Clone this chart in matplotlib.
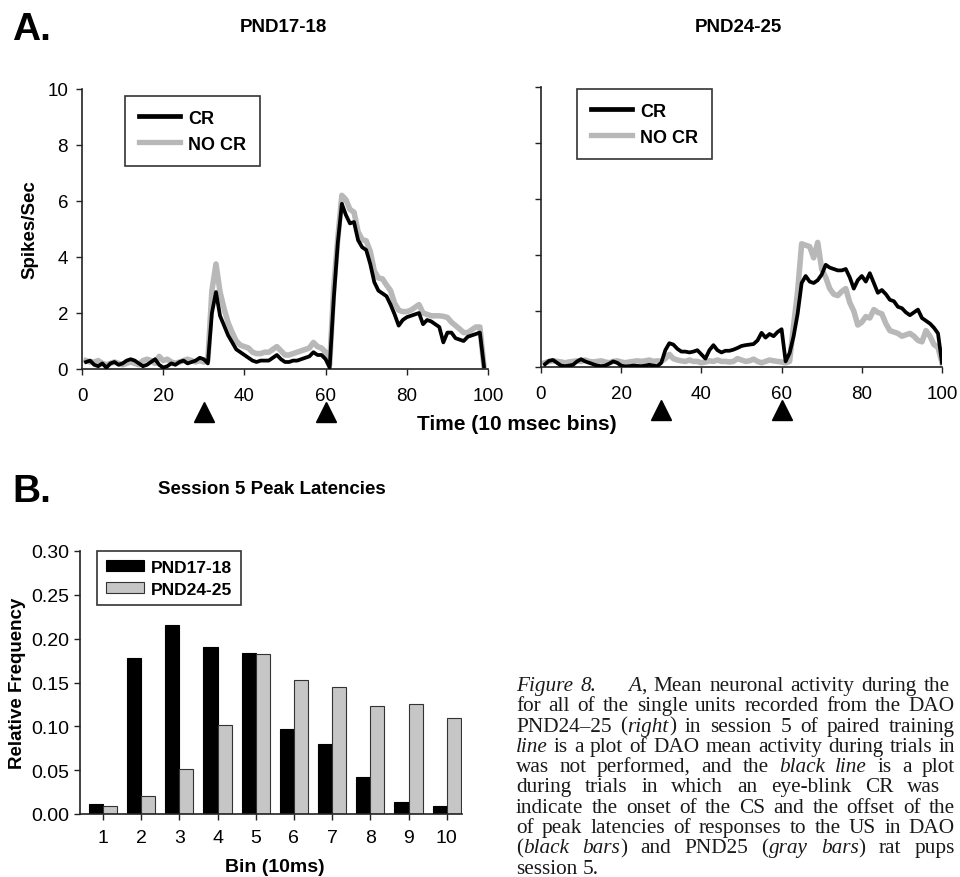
import matplotlib
matplotlib.use('Agg')
import matplotlib.pyplot as plt
import numpy as np
from matplotlib.transforms import blended_transform_factory
from matplotlib.lines import Line2D

plt.rcParams['font.family'] = ['Liberation Sans', 'DejaVu Sans']

# ---------------- data ----------------
time_left = list(range(1, 100))
cr_left = [0.25, 0.30, 0.15, 0.10, 0.20, 0.05, 0.20, 0.25, 0.15, 0.20,
           0.30, 0.35, 0.30, 0.20, 0.10, 0.15, 0.25, 0.35, 0.15, 0.05,
           0.10, 0.20, 0.15, 0.25, 0.30, 0.20, 0.25, 0.30, 0.40, 0.35,
           0.20, 2.00, 2.75, 1.90, 1.55, 1.20, 0.95, 0.70, 0.60, 0.50,
           0.40, 0.30, 0.25, 0.30, 0.30, 0.30, 0.40, 0.50, 0.35, 0.25,
           0.25, 0.30, 0.30, 0.35, 0.40, 0.45, 0.60, 0.50, 0.50, 0.35,
           0.05, 2.50, 4.50, 5.90, 5.50, 5.20, 5.25, 4.60, 4.35, 4.25,
           3.75, 3.10, 2.80, 2.70, 2.60, 2.30, 1.95, 1.55, 1.75, 1.85,
           1.90, 1.95, 2.00, 1.60, 1.75, 1.70, 1.60, 1.50, 0.95, 1.30,
           1.30, 1.10, 1.05, 1.00, 1.15, 1.20, 1.25, 1.30, 0.10]
nocr_left = [0.30, 0.25, 0.25, 0.30, 0.20, 0.15, 0.20, 0.25, 0.20, 0.15,
             0.20, 0.25, 0.20, 0.15, 0.30, 0.35, 0.30, 0.20, 0.45, 0.30,
             0.35, 0.25, 0.20, 0.25, 0.30, 0.35, 0.30, 0.25, 0.30, 0.25,
             0.30, 2.80, 3.75, 2.75, 2.15, 1.65, 1.30, 1.00, 0.85, 0.80,
             0.75, 0.60, 0.55, 0.55, 0.60, 0.60, 0.70, 0.80, 0.65, 0.50,
             0.50, 0.55, 0.60, 0.65, 0.70, 0.75, 0.95, 0.80, 0.75, 0.60,
             0.15, 2.90, 4.65, 6.20, 6.05, 5.70, 5.60, 4.90, 4.62, 4.58,
             4.20, 3.50, 3.25, 3.22, 3.00, 2.80, 2.35, 2.10, 2.05, 2.05,
             2.10, 2.20, 2.30, 2.00, 1.95, 1.90, 1.90, 1.90, 1.88, 1.84,
             1.67, 1.55, 1.43, 1.30, 1.30, 1.40, 1.50, 1.50, 0.10]

time_right = list(range(1, 101))
cr_right = [0.10, 0.22, 0.25, 0.15, 0.05, 0.03, 0.05, 0.08, 0.20, 0.28,
            0.20, 0.15, 0.10, 0.05, 0.03, 0.05, 0.12, 0.20, 0.15, 0.05,
            0.02, 0.03, 0.05, 0.04, 0.03, 0.05, 0.08, 0.05, 0.03, 0.15,
            0.60, 0.85, 0.80, 0.65, 0.55, 0.55, 0.52, 0.55, 0.60, 0.45,
            0.30, 0.60, 0.78, 0.60, 0.52, 0.58, 0.58, 0.62, 0.68, 0.75,
            0.78, 0.80, 0.82, 0.95, 1.22, 1.05, 1.18, 1.10, 1.25, 1.35,
            0.20, 0.50, 1.10, 1.90, 3.00, 3.25, 3.05, 3.00, 3.10, 3.30,
            3.65, 3.55, 3.50, 3.45, 3.45, 3.50, 3.20, 2.80, 3.10, 3.25,
            3.05, 3.35, 3.00, 2.65, 2.75, 2.60, 2.40, 2.35, 2.15, 2.10,
            1.95, 1.85, 1.95, 2.05, 1.75, 1.65, 1.55, 1.40, 1.20, 0.15]
nocr_right = [0.15, 0.20, 0.22, 0.20, 0.18, 0.15, 0.18, 0.20, 0.22, 0.20,
              0.25, 0.20, 0.18, 0.20, 0.22, 0.18, 0.15, 0.20, 0.22, 0.18,
              0.15, 0.18, 0.20, 0.22, 0.20, 0.22, 0.25, 0.20, 0.22, 0.20,
              0.30, 0.45, 0.30, 0.25, 0.22, 0.20, 0.25, 0.20, 0.20, 0.15,
              0.18, 0.22, 0.20, 0.25, 0.20, 0.20, 0.18, 0.20, 0.30, 0.25,
              0.20, 0.22, 0.28, 0.20, 0.15, 0.20, 0.25, 0.22, 0.20, 0.18,
              0.15, 0.20, 1.50, 2.70, 4.40, 4.35, 4.30, 3.90, 4.45, 3.50,
              3.20, 2.80, 2.60, 2.55, 2.70, 2.80, 2.30, 2.00, 1.50, 1.60,
              1.80, 1.75, 2.05, 1.95, 1.90, 1.55, 1.30, 1.25, 1.20, 1.10,
              1.15, 1.20, 1.10, 0.95, 0.90, 1.30, 1.10, 0.80, 0.70, 0.15]

event_bins = [30, 60]

bins = list(range(1, 11))
freq_pnd17 = [0.011, 0.178, 0.216, 0.190, 0.184, 0.097, 0.080, 0.042, 0.014, 0.009]
freq_pnd24 = [0.009, 0.020, 0.051, 0.102, 0.182, 0.153, 0.145, 0.123, 0.126, 0.110]

caption_lines = [
    "_Figure 8._\u2003\u2002_A_, Mean neuronal activity during the",
    "for all of the single units recorded from the DAO",
    "PND24\u201325 (_right_) in session 5 of paired training",
    "_line_ is a plot of DAO mean activity during trials in",
    "was not performed, and the _black line_ is a plot",
    "during trials in which an eye-blink CR was",
    "indicate the onset of the CS and the offset of the",
    "of peak latencies of responses to the US in DAO",
    "(_black bars_) and PND25 (_gray bars_) rat pups",
    "session 5.",
]
# right edge (px) each caption line is justified to; None = ragged last line
caption_right = [950, 955, 955, 955, 955, 940, 955, 955, 955, None]

# ---------------- figure ----------------
W, H = 960, 878
fig = plt.figure(figsize=(W / 100, H / 100), dpi=100)


def rect(x0, y0, x1, y1):
    return [x0 / W, 1 - y1 / H, (x1 - x0) / W, (y1 - y0) / H]


GRAY_LINE = '#b8b8b8'
AX_COLOR = '#222222'


def style_axes(ax, show_ylabels=True):
    for s in ['top', 'right']:
        ax.spines[s].set_visible(False)
    for s in ['left', 'bottom']:
        ax.spines[s].set_linewidth(1.2)
        ax.spines[s].set_color(AX_COLOR)
    ax.set_xlim(0, 100)
    ax.set_ylim(0, 10)
    ax.set_xticks(range(0, 101, 20))
    ax.set_yticks(range(0, 11, 2))
    ax.tick_params(axis='both', direction='out', length=4, width=1.0,
                   color=AX_COLOR, labelsize=13.5)
    ax.tick_params(axis='x', pad=9)
    ax.tick_params(axis='y', pad=6)
    if not show_ylabels:
        ax.tick_params(axis='y', labelleft=False)


def draw_panel(ax, t, cr, nocr, legend_anchor):
    ax.plot(t, nocr, color=GRAY_LINE, lw=4.0, solid_joinstyle='round', zorder=2)
    ax.plot(t, cr, color='black', lw=2.7, solid_joinstyle='round', zorder=3)
    trans = blended_transform_factory(ax.transData, ax.transAxes)
    ax.plot(event_bins, [-0.155] * len(event_bins), transform=trans, ls='none',
            marker='^', ms=14, color='black', clip_on=False)
    handles = [Line2D([], [], color='black', lw=3.4),
               Line2D([], [], color=GRAY_LINE, lw=3.8)]
    leg = ax.legend(handles, ['CR', 'NO CR'], loc='upper left',
                    bbox_to_anchor=legend_anchor, borderaxespad=0,
                    fancybox=False, frameon=True, handlelength=2.3,
                    prop={'weight': 'bold', 'size': 13}, labelspacing=0.5,
                    borderpad=0.75, handletextpad=0.45)
    leg.get_frame().set_edgecolor('black')
    leg.get_frame().set_linewidth(1.2)


axL = fig.add_axes(rect(82, 90, 488, 370))
style_axes(axL)
draw_panel(axL, time_left, cr_left, nocr_left, (0.106, 0.975))

axR = fig.add_axes(rect(541, 88, 942, 368))
style_axes(axR, show_ylabels=False)
draw_panel(axR, time_right, cr_right, nocr_right, (0.09, 0.993))

fig.text(12 / W, 1 - 30 / H, 'A.', fontsize=28, fontweight='bold', va='center', ha='left')
fig.text(283 / W, 1 - 28 / H, 'PND17-18', fontsize=13.5, fontweight='bold', ha='center', va='center')
fig.text(738 / W, 1 - 28 / H, 'PND24-25', fontsize=13.5, fontweight='bold', ha='center', va='center')
fig.text(30 / W, 1 - 230 / H, 'Spikes/Sec', fontsize=13.5, fontweight='bold',
         rotation=90, ha='center', va='center')
fig.text(517 / W, 1 - 425 / H, 'Time (10 msec bins)', fontsize=15, fontweight='bold',
         ha='center', va='center')

# ---------------- panel B ----------------
axB = fig.add_axes(rect(80, 552, 462, 815))
x = np.array(bins, dtype=float)
bw = 0.37
axB.bar(x - bw / 2, freq_pnd17, bw, color='black', edgecolor='black', lw=0.8, label='PND17-18')
axB.bar(x + bw / 2, freq_pnd24, bw, color='#c6c6c6', edgecolor='#333333', lw=0.8, label='PND24-25')
for s in ['top', 'right']:
    axB.spines[s].set_visible(False)
for s in ['left', 'bottom']:
    axB.spines[s].set_linewidth(1.2)
    axB.spines[s].set_color(AX_COLOR)
axB.set_xlim(0.4, 10.4)
axB.set_ylim(0, 0.30)
axB.set_xticks(bins)
yt = np.arange(0, 0.301, 0.05)
axB.set_yticks(yt)
axB.set_yticklabels([f'{v:.2f}' for v in yt])
axB.tick_params(axis='both', direction='out', length=4, width=1.0, color=AX_COLOR, labelsize=14)
axB.tick_params(axis='x', pad=7)
axB.tick_params(axis='y', pad=4)
legB = axB.legend(loc='upper left', bbox_to_anchor=(0.045, 1.0), borderaxespad=0,
                  fancybox=False, handlelength=2.2, handleheight=0.65,
                  prop={'weight': 'bold', 'size': 12.5}, labelspacing=0.4,
                  borderpad=0.5, handletextpad=0.4)
legB.get_frame().set_edgecolor('black')
legB.get_frame().set_linewidth(1.2)

fig.text(12 / W, 1 - 492 / H, 'B.', fontsize=28, fontweight='bold', va='center', ha='left')
fig.text(272 / W, 1 - 490 / H, 'Session 5 Peak Latencies', fontsize=13.5, fontweight='bold',
         ha='center', va='center')
fig.text(18 / W, 1 - 683 / H, 'Relative Frequency', fontsize=13.5, fontweight='bold',
         rotation=90, ha='center', va='center')
fig.text(275 / W, 1 - 868 / H, 'Bin (10ms)', fontsize=14, fontweight='bold',
         ha='center', va='center')

# ---------------- caption (justified, word by word) ----------------
renderer = fig.canvas.get_renderer()
cap_size = 15.3
space_px = 0.25 * cap_size * 100 / 72
x_start = 516
for i, line in enumerate(caption_lines):
    yb = 691 + i * 20.3
    italic = False
    words = []  # each word: list of (Text, width)
    for w in line.split(' '):
        parts = []
        segs = w.split('_')
        for j, p in enumerate(segs):
            if j > 0:
                italic = not italic
            if p == '':
                continue
            t = fig.text(0, 1 - yb / H, p, fontsize=cap_size,
                         family=['Liberation Serif', 'DejaVu Serif'],
                         style='italic' if italic else 'normal',
                         ha='left', va='baseline', color='#1a1a1a')
            parts.append((t, t.get_window_extent(renderer).width))
        words.append(parts)
    word_w = [sum(wd for _, wd in parts) for parts in words]
    n_gaps = max(len(words) - 1, 1)
    gap = space_px
    if caption_right[i] is not None:
        gap = max(space_px, (caption_right[i] - x_start - sum(word_w)) / n_gaps)
    xc = x_start
    for parts, ww in zip(words, word_w):
        for t, wd in parts:
            t.set_x(xc / W)
            xc += wd
        xc += gap

fig.savefig('out.png', dpi=100)
